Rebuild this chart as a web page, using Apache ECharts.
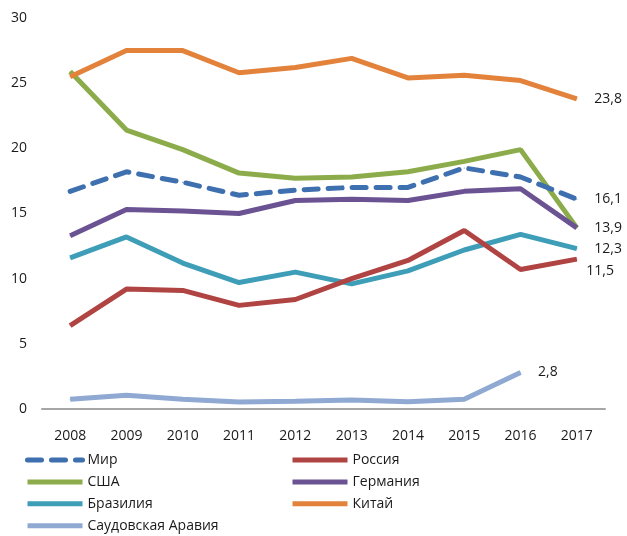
<!DOCTYPE html>
<html>
<head>
<meta charset="utf-8">
<script src="https://cdn.jsdelivr.net/npm/echarts@6/dist/echarts.min.js"></script>
<style>
  html, body { margin: 0; padding: 0; background: #fff; }
  #chart { width: 627px; height: 536px; }
</style>
</head>
<body>
<div id="chart"></div>
<script>
// данные
var years = ['2008', '2009', '2010', '2011', '2012', '2013', '2014', '2015', '2016', '2017'];
var yTicks = [0, 5, 10, 15, 20, 25, 30];

var mir      = [16.7, 18.2, 17.4, 16.4, 16.8, 17.0, 17.0, 18.5, 17.8, 16.1];
var rossiya  = [6.4, 9.2, 9.1, 7.95, 8.4, 10.0, 11.4, 13.7, 10.7, 11.5];
var ssha     = [25.9, 21.4, 19.9, 18.1, 17.7, 17.8, 18.2, 19.0, 19.9, 13.9];
var germaniya = [13.3, 15.3, 15.2, 15.0, 16.0, 16.1, 16.0, 16.7, 16.9, 13.9];
var braziliya = [11.6, 13.2, 11.2, 9.7, 10.5, 9.6, 10.6, 12.2, 13.4, 12.3];
var kitay    = [25.5, 27.5, 27.5, 25.8, 26.2, 26.9, 25.4, 25.6, 25.2, 23.8];
var saudAr   = [0.74, 1.05, 0.74, 0.54, 0.6, 0.69, 0.56, 0.74, 2.8, null];

var fontName = '"Open Sans", "Noto Sans", sans-serif';

// подпись только у одной точки ряда
function withLabel(arr, idx, offset) {
  return arr.map(function (v, i) {
    if (i !== idx) return v;
    return {
      value: v,
      label: {
        show: true,
        position: 'right',
        distance: 17,
        offset: offset || [0, 0],
        color: '#1a1a1a',
        fontSize: 14,
        fontFamily: fontName,
        formatter: function (p) { return String(p.value).replace('.', ','); }
      }
    };
  });
}

function line(name, data, color, dashed) {
  return {
    name: name,
    type: 'line',
    data: data,
    symbol: 'circle',
    symbolSize: 1,
    showSymbol: true,
    showAllSymbol: true,
    smooth: false,
    lineStyle: {
      width: 5,
      color: color,
      type: dashed ? [14, 10] : 'solid',
      cap: dashed ? 'round' : 'butt'
    },
    itemStyle: { color: color },
    emphasis: { disabled: true }
  };
}

var legendBase = {
  orient: 'vertical',
  top: 453,
  height: 83,
  padding: 0,
  itemWidth: 55,
  itemHeight: 14,
  itemGap: 7.9,
  itemStyle: { opacity: 0 },
  lineStyle: { width: 5 },
  textStyle: { color: '#1a1a1a', fontSize: 14, lineHeight: 14, fontFamily: fontName }
};

var chart = echarts.init(document.getElementById('chart'));

var option = {
  animation: false,
  textStyle: { fontFamily: fontName },
  grid: { left: 42, right: 22, top: 18, bottom: 127 },
  legend: [
    Object.assign({}, legendBase, {
      left: 25,
      data: ['Мир', 'США', 'Бразилия', 'Саудовская Аравия']
    }),
    Object.assign({}, legendBase, {
      left: 290,
      data: ['Россия', 'Германия', 'Китай']
    })
  ],
  xAxis: {
    type: 'category',
    data: years,
    boundaryGap: true,
    axisLine: { show: true, lineStyle: { color: '#a6a6a6', width: 2 } },
    axisTick: { show: false },
    axisLabel: { color: '#1a1a1a', fontSize: 14, margin: 20, fontFamily: fontName },
    splitLine: { show: false }
  },
  yAxis: {
    type: 'value',
    min: yTicks[0],
    max: yTicks[yTicks.length - 1],
    interval: 5,
    axisLine: { show: false },
    axisTick: { show: false },
    splitLine: { show: false },
    axisLabel: { color: '#1a1a1a', fontSize: 14, margin: 15, fontFamily: fontName }
  },
  series: [
    line('Саудовская Аравия', withLabel(saudAr, 8), '#8fa9d2'),
    line('Бразилия', withLabel(braziliya, 9), '#3e9eb8'),
    line('Россия', withLabel(rossiya, 9, [-8, 12]), '#b04442'),
    line('США', ssha, '#8cac4b'),
    line('Германия', withLabel(germaniya, 9), '#6b5293'),
    line('Китай', withLabel(kitay, 9), '#e3823b'),
    line('Мир', withLabel(mir, 9), '#3e6fae', true)
  ]
};

chart.setOption(option);
</script>
</body>
</html>
